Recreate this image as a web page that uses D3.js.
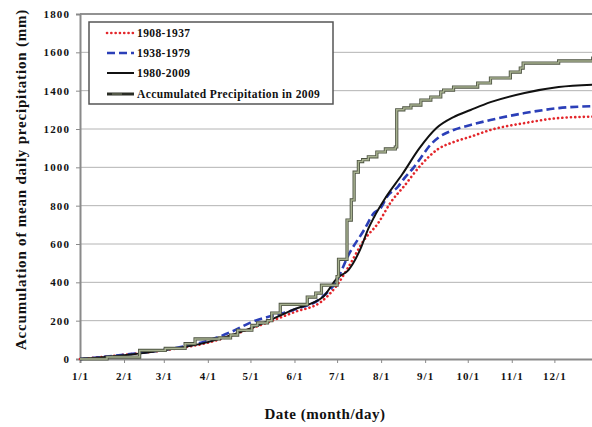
<!DOCTYPE html>
<html>
<head>
<meta charset="utf-8">
<script src="https://cdn.jsdelivr.net/npm/d3@7"></script>
<style>
  html, body { margin: 0; padding: 0; background: #fff; }
  svg { display: block; }
  text { font-family: "Liberation Serif", "Times New Roman", serif; font-weight: bold; fill: #111; }
</style>
</head>
<body>
<svg id="chart" width="592" height="427"></svg>
<script>
// Month-start ticks and their labels
const monthTicks = ["01/01","02/01","03/01","04/01","05/01","06/01","07/01","08/01","09/01","10/01","11/01","12/01"];
const monthLabels = ["1/1","2/1","3/1","4/1","5/1","6/1","7/1","8/1","9/1","10/1","11/1","12/1"];
const yTicks = [0, 200, 400, 600, 800, 1000, 1200, 1400, 1600, 1800];

// Mean accumulated precipitation, 1908-1937 (mm)
const dates1908 = ["01/01","02/01","03/01","04/01","05/01","06/01","06/20","07/01","07/09","07/20","07/30","08/08","08/17","08/29","09/10","09/21","10/03","10/17","11/10","12/04","12/31"];
const vals1908  = [0, 22, 45, 85, 158, 245, 300, 386, 480, 621, 710, 820, 900, 1012, 1095, 1132, 1160, 1195, 1231, 1257, 1265];

// Mean accumulated precipitation, 1938-1979 (mm)
const dates1938 = ["01/01","02/01","03/01","04/01","04/17","05/01","06/01","06/20","07/01","07/09","07/20","07/27","08/01","08/05","08/13","08/17","08/24","08/29","09/05","09/10","09/21","10/03","10/17","11/10","12/04","12/31"];
const vals1938  = [0, 22, 48, 95, 140, 190, 258, 320, 412, 542, 673, 762, 790, 845, 900, 940, 1000, 1050, 1120, 1153, 1195, 1221, 1247, 1283, 1309, 1320];

// Mean accumulated precipitation, 1980-2009 (mm)
const dates1980 = ["01/01","02/01","03/01","04/01","05/01","06/01","06/21","07/01","07/09","07/18","07/23","07/27","08/04","08/16","08/28","09/09","09/21","10/03","10/17","11/10","12/04","12/31"];
const vals1980  = [0, 20, 45, 88, 160, 260, 323, 422, 464, 584, 680, 740, 840, 965, 1100, 1205, 1262, 1299, 1340, 1388, 1419, 1432];

// Accumulated daily precipitation in 2009 (mm), drawn as steps
const dates2009 = ["01/01","01/20","02/12","03/02","03/16","03/23","04/09","04/17","04/22","05/02","05/06","05/13","05/16","05/22","06/10","06/16","06/20","07/01","07/02","07/08","07/11","07/13","07/16","07/19","07/23","07/29","08/04","08/11","08/12","08/17","08/22","08/29","09/05","09/12","09/14","09/21","10/08","10/17","10/31","11/07","11/09","12/04","12/28","12/31"];
const vals2009  = [0, 10, 45, 55, 80, 105, 110, 125, 150, 175, 188, 200, 240, 285, 323, 344, 385, 430, 520, 725, 830, 975, 1030, 1040, 1055, 1080, 1096, 1106, 1300, 1310, 1325, 1351, 1367, 1393, 1403, 1419, 1440, 1466, 1497, 1518, 1544, 1555, 1570, 1570];

const legendNames = ["1908-1937", "1938-1979", "1980-2009", "Accumulated Precipitation in 2009"];

const parse = s => d3.timeParse("%Y/%m/%d")("2009/" + s);
const toPoints = (ds, vs) => ds.map((d, i) => ({ date: parse(d), value: vs[i] }));

const svg = d3.select("#chart");
const plotLeft = 80, plotRight = 597, plotTop = 14, plotBottom = 359;

const x = d3.scaleTime()
  .domain([parse("01/01"), parse("12/31")])
  .range([plotLeft, plotRight]);
const y = d3.scaleLinear()
  .domain([0, 1800])
  .range([plotBottom, plotTop]);

// Horizontal gridlines
svg.append("g")
  .selectAll("line")
  .data(yTicks.filter(v => v > 0))
  .join("line")
  .attr("x1", plotLeft).attr("x2", 592)
  .attr("y1", d => y(d)).attr("y2", d => y(d))
  .attr("stroke", d => d === 1800 ? "#6e6e6e" : "#b4b4b4")
  .attr("stroke-width", d => d === 1800 ? 1.5 : 1);

// Y axis
const yAxis = svg.append("g")
  .attr("transform", `translate(${plotLeft},0)`)
  .call(d3.axisLeft(y).tickValues(yTicks).tickSize(4).tickPadding(6).tickFormat(d3.format("d")));
yAxis.select(".domain").attr("stroke", "#8a8a8a").attr("stroke-width", 2);
yAxis.selectAll(".tick line").attr("stroke", "#8a8a8a");
yAxis.selectAll(".tick text")
  .style("font-size", "11px").style("letter-spacing", "1.1px")
  .style("font-family", "'Liberation Serif', serif").style("font-weight", "bold").attr("fill", "#111");

// X axis
const xAxis = svg.append("g")
  .attr("transform", `translate(0,${plotBottom})`)
  .call(d3.axisBottom(x).tickValues(monthTicks.map(parse)).tickSize(4).tickPadding(9)
    .tickFormat((d, i) => monthLabels[i]));
xAxis.select(".domain").attr("stroke", "#8a8a8a").attr("stroke-width", 2);
xAxis.selectAll(".tick line").attr("stroke", "#8a8a8a");
xAxis.selectAll(".tick text")
  .style("font-size", "11px").style("letter-spacing", "1px")
  .style("font-family", "'Liberation Serif', serif").style("font-weight", "bold").attr("fill", "#111");

// Series
const smooth = d3.line().x(d => x(d.date)).y(d => y(d.value)).curve(d3.curveMonotoneX);
const stepped = d3.line().x(d => x(d.date)).y(d => y(d.value)).curve(d3.curveStepAfter);

const styles = [
  { color: "#e3262b", width: 2.6, dash: "0.1 4.2", cap: "round" },
  { color: "#2b3fb8", width: 2.6, dash: "8 4", cap: "butt" },
  { color: "#111111", width: 2, dash: null, cap: "butt" }
];
const series = [toPoints(dates1908, vals1908), toPoints(dates1938, vals1938), toPoints(dates1980, vals1980)];

const plot = svg.append("g");
series.forEach((pts, i) => {
  const s = styles[i];
  plot.append("path")
    .datum(pts)
    .attr("d", smooth)
    .attr("fill", "none")
    .attr("stroke", s.color)
    .attr("stroke-width", s.width)
    .attr("stroke-linecap", s.cap)
    .attr("stroke-dasharray", s.dash);
});

// 2009 step line: dark olive outline with a pale olive core
const pts2009 = toPoints(dates2009, vals2009);
plot.append("path").datum(pts2009).attr("d", stepped)
  .attr("fill", "none").attr("stroke", "#4d5342").attr("stroke-width", 3.2);
plot.append("path").datum(pts2009).attr("d", stepped)
  .attr("fill", "none").attr("stroke", "#a7b190").attr("stroke-width", 1.5);

// Legend
const legend = svg.append("g");
legend.append("rect")
  .attr("x", 89).attr("y", 22).attr("width", 244).attr("height", 82)
  .attr("fill", "#fff").attr("stroke", "#555").attr("stroke-width", 1.5);
const rowY = [33, 53, 73, 94];
legendNames.forEach((name, i) => {
  const ly = rowY[i];
  if (i < 3) {
    const s = styles[i];
    legend.append("line")
      .attr("x1", 107).attr("x2", 134).attr("y1", ly).attr("y2", ly)
      .attr("stroke", s.color).attr("stroke-width", s.width)
      .attr("stroke-linecap", s.cap).attr("stroke-dasharray", s.dash);
  } else {
    legend.append("line").attr("x1", 107).attr("x2", 134).attr("y1", ly).attr("y2", ly)
      .attr("stroke", "#2a2d25").attr("stroke-width", 3);
    legend.append("line").attr("x1", 112).attr("x2", 122).attr("y1", ly).attr("y2", ly)
      .attr("stroke", "#7c846c").attr("stroke-width", 1);
  }
  legend.append("text")
    .attr("x", 137).attr("y", ly).attr("dy", "0.35em")
    .style("font-size", "11.5px").style("letter-spacing", "0.4px")
    .text(name);
});

// Axis titles
svg.append("text")
  .attr("transform", `translate(21,${(10 + 349) / 2}) rotate(-90)`)
  .attr("text-anchor", "middle").attr("dy", "0.35em")
  .style("font-size", "15px").style("letter-spacing", "0.8px")
  .text("Accumulation of mean daily precipitation  (mm)");

svg.append("text")
  .attr("x", 325).attr("y", 419)
  .attr("text-anchor", "middle")
  .style("font-size", "15px").style("letter-spacing", "0.5px")
  .text("Date (month/day)");
</script>
</body>
</html>
